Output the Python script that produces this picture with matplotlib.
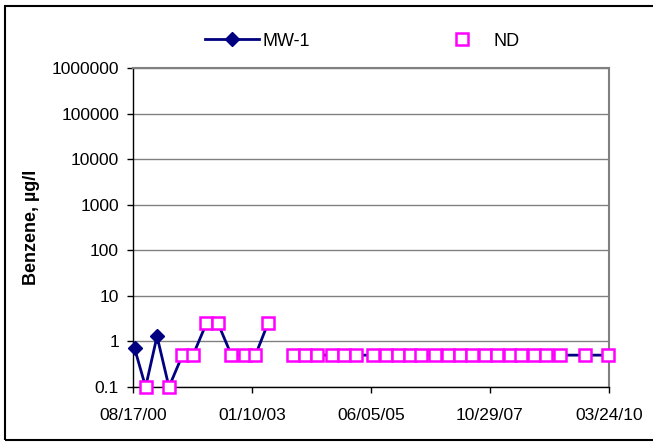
import matplotlib
matplotlib.use("Agg")
import matplotlib.pyplot as plt
import matplotlib.dates as mdates
from matplotlib.lines import Line2D
from matplotlib.patches import Rectangle
import numpy as np
import pandas as pd

plt.rcParams["font.family"] = ["Liberation Sans", "DejaVu Sans"]

# Benzene results for MW-1 (NaN = sample not analysed, breaks the line)
sample_dates = [
    "2000-08-29", "2000-11-18", "2001-02-10", "2001-05-09", "2001-08-16",
    "2001-11-02", "2002-02-09", "2002-05-05", "2002-08-12", "2002-11-18",
    "2003-02-05", "2003-05-08", "2003-08-10", "2003-11-08", "2004-02-03",
    "2004-05-06", "2004-08-25", "2004-11-18", "2005-02-12", "2005-06-20",
    "2005-09-21", "2005-12-21", "2006-03-17", "2006-06-11", "2006-09-17",
    "2006-12-24", "2007-03-26", "2007-06-22", "2007-09-21", "2007-12-20",
    "2008-03-23", "2008-06-17", "2008-09-16", "2008-12-18", "2009-03-26",
    "2009-10-01", "2010-03-17",
]
benzene = [
    0.7, 0.1, 1.3, 0.1, 0.5,
    0.5, 2.5, 2.5, 0.5, 0.5,
    0.5, 2.5, np.nan, 0.5, 0.5,
    0.5, 0.5, 0.5, 0.5, 0.5,
    0.5, 0.5, 0.5, 0.5, 0.5,
    0.5, 0.5, 0.5, 0.5, 0.5,
    0.5, 0.5, 0.5, 0.5, 0.5,
    0.5, 0.5,
]
# non-detects, plotted at the reporting value
non_detect = [
    False, True, False, True, True,
    True, True, True, True, True,
    True, True, False, True, True,
    True, True, True, True, True,
    True, True, True, True, True,
    True, True, True, True, True,
    True, True, True, True, True,
    True, True,
]

x_ticks = ["2000-08-17", "2003-01-10", "2005-06-05", "2007-10-29", "2010-03-24"]
y_ticks = [0.1, 1, 10, 100, 1000, 10000, 100000, 1000000]

dates = pd.to_datetime(sample_dates)
vals = np.array(benzene, dtype=float)
nd = np.array(non_detect)
detect = ~nd & ~np.isnan(vals)

W, H = 653, 442
fig = plt.figure(figsize=(W / 100, H / 100), dpi=100)
ax = fig.add_axes([133 / W, 1 - 387 / H, (609 - 133) / W, (387 - 68) / H])

navy = "#000080"
magenta = "#FF00FF"

ax.plot(dates, vals, color=navy, lw=2, zorder=3, clip_on=False)
ax.plot(dates[detect], vals[detect], ls="none", marker="D", ms=7,
        color=navy, zorder=4, clip_on=False)
ax.plot(dates[nd], vals[nd], ls="none", marker="s", ms=8.5,
        mfc="white", mec=magenta, mew=1.8, zorder=5, clip_on=False)

ax.set_yscale("log")
ax.set_ylim(0.1, 1000000)
ax.set_yticks(y_ticks)
ax.set_yticklabels([f"{v:g}" if v < 1 else f"{int(v)}" for v in y_ticks])
ax.yaxis.set_minor_locator(matplotlib.ticker.NullLocator())

tick_dates = pd.to_datetime(x_ticks)
ax.set_xlim(tick_dates[0], tick_dates[-1])
ax.set_xticks(tick_dates)
ax.xaxis.set_major_formatter(mdates.DateFormatter("%m/%d/%y"))

ax.grid(axis="y", color="#808080", lw=1)
ax.set_axisbelow(True)
for s in ["top", "right"]:
    ax.spines[s].set_color("#808080")
    ax.spines[s].set_linewidth(1.5)
for s in ["left", "bottom"]:
    ax.spines[s].set_color("black")
    ax.spines[s].set_linewidth(1)

ax.tick_params(axis="both", direction="out", length=4.5, width=1,
               labelsize=12.5, color="black")
ax.tick_params(axis="y", pad=5.5)
ax.tick_params(axis="x", pad=10.5)

fig.text(32 / W, 1 - 227 / H, "Benzene, µg/l", rotation=90, fontsize=13,
         fontweight="bold", ha="center", va="center")

handles = [
    Line2D([], [], color=navy, lw=2, marker="D", ms=7),
    Line2D([], [], ls="none", marker="s", ms=8.5, mfc="white",
           mec=magenta, mew=1.8),
]
fig.legend(handles, ["MW-1", "ND"], loc="center", ncol=2,
           bbox_to_anchor=(362 / W, 1 - 41 / H), frameon=False,
           fontsize=13, handlelength=3.0, handletextpad=0.22,
           columnspacing=6.9, numpoints=1, borderpad=0)

# chart border
fig.add_artist(Rectangle((5 / W, 2 / H), 1, (438 - 4) / H,
                         transform=fig.transFigure, fill=False,
                         ec="black", lw=1.5))

fig.savefig("out.png", dpi=100)
